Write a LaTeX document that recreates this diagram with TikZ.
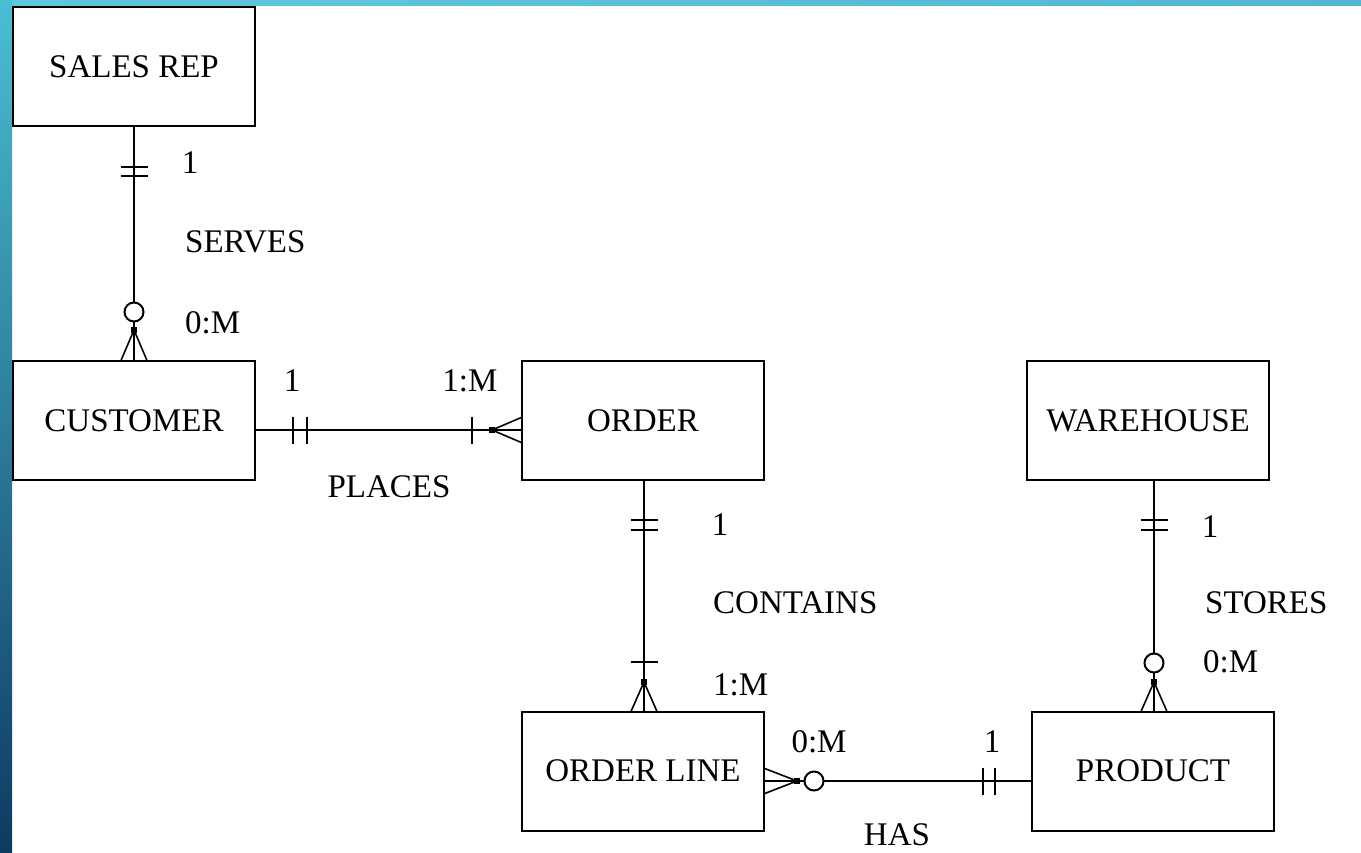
\documentclass[tikz,border=0pt]{standalone}
\usepackage{fontspec}
\setmainfont{Liberation Serif}
\usetikzlibrary{calc}
\definecolor{bandA}{RGB}{95,199,221}
\definecolor{bandB}{RGB}{82,184,210}
\definecolor{barTop}{RGB}{75,190,212}
\definecolor{barMid}{RGB}{40,128,158}
\definecolor{barBot}{RGB}{14,58,98}
\tikzset{
  erline/.style={line width=2pt},
  entity/.style={draw,line width=2pt,minimum width=242pt,minimum height=119pt,inner sep=0pt,font=\fontsize{33}{40}\selectfont},
  lbl/.style={inner sep=0pt,font=\fontsize{33}{40}\selectfont},
  pics/onebar/.style={code={\draw[line width=2pt] (0,-13.5)--(0,13.5);}},
  pics/zerocirc/.style={code={\draw[line width=2pt,fill=white] (0,0) circle (9.5);}},
  pics/crowfoot/.style={code={\fill (-3.2,-3.2) rectangle (3.2,3.2);
      \draw[line width=1.6pt] (0,0)--(#1,-12.8) (0,0)--(#1,12.8);}},
  pics/crowfoot/.default=30
}
\begin{document}
\begin{tikzpicture}[x=1pt,y=-1pt]
\useasboundingbox (0,0) rectangle (1361,853);
\fill[white] (0,0) rectangle (1361,853);
% decorative bands
\shade[left color=bandA,right color=bandB] (0,0) rectangle (1361,6);
\shade[top color=barTop,middle color=barMid,bottom color=barBot] (0,0) rectangle (12,853);

% entities
\node[entity] (sr)  at (134,66.5)  {SALES REP};
\node[entity] (cu)  at (134,420.5) {CUSTOMER};
\node[entity] (ord) at (643,420.5) {ORDER};
\node[entity] (wh)  at (1148,420.5) {WAREHOUSE};
\node[entity] (ol)  at (643,771)   {ORDER LINE};
\node[entity] (pr)  at (1153,771)  {PRODUCT};

% SERVES
\draw[erline] (sr.south) -- (cu.north);
\path (134,167) pic[rotate=90]{onebar} (134,176) pic[rotate=90]{onebar};
\path (134,312) pic{zerocirc};
\path (134,330) pic[rotate=-90]{crowfoot};
\node[lbl] at (190,163) {1};
\node[lbl,anchor=west] at (185,242) {SERVES};
\node[lbl,anchor=west] at (185,323) {0:M};

% PLACES
\coordinate (p1) at ($(cu.east)+(0,9.5)$);
\draw[erline] (p1) -- (ord.west |- p1);
\path (293,430) pic{onebar} (307,430) pic{onebar} (472,430) pic{onebar};
\path (492,430) pic{crowfoot};
\node[lbl] at (292,381) {1};
\node[lbl] at (470,381) {1:M};
\node[lbl] at (389,487) {PLACES};

% CONTAINS
\coordinate (c1) at ($(ord.south)+(1,0)$);
\draw[erline] (c1) -- (ol.north -| c1);
\path (644,520) pic[rotate=90]{onebar} (644,530) pic[rotate=90]{onebar} (644,662) pic[rotate=90]{onebar};
\path (644,682) pic[rotate=-90]{crowfoot=29};
\node[lbl] at (720,525) {1};
\node[lbl,anchor=west] at (713,603) {CONTAINS};
\node[lbl,anchor=west] at (713,685) {1:M};

% STORES
\coordinate (s1) at ($(wh.south)+(6,0)$);
\draw[erline] (s1) -- (pr.north -| s1);
\path (1154,520) pic[rotate=90]{onebar} (1154,530) pic[rotate=90]{onebar};
\path (1154,663) pic{zerocirc};
\path (1154,682) pic[rotate=-90]{crowfoot=29};
\node[lbl] at (1210,527) {1};
\node[lbl,anchor=west] at (1205,603) {STORES};
\node[lbl,anchor=west] at (1203,662) {0:M};

% HAS
\coordinate (h1) at ($(ol.east)+(0,10)$);
\draw[erline] (h1) -- (pr.west |- h1);
\path (983,781) pic{onebar} (995,781) pic{onebar};
\path (814,781) pic{zerocirc};
\path (797,781) pic[rotate=180]{crowfoot=33};
\node[lbl] at (819,742) {0:M};
\node[lbl] at (992,742) {1};
\node[lbl] at (897,835) {HAS};
\end{tikzpicture}
\end{document}
